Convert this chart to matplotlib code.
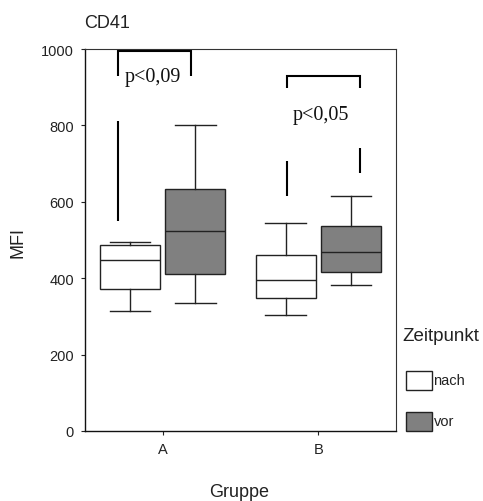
import matplotlib
matplotlib.use("Agg")
import matplotlib.pyplot as plt
from matplotlib.patches import Rectangle

plt.rcParams['font.family'] = ['Liberation Sans', 'DejaVu Sans']

# ---- data ----
groups = ["A", "B"]
series = ["nach", "vor"]
series_colors = ["#ffffff", "#808080"]
# per group: [nach, vor]
whislo = [[314, 336], [303, 382]]
q1 = [[372, 411], [347, 415]]
med = [[447, 523], [395, 469]]
q3 = [[486, 633], [461, 536]]
whishi = [[496, 802], [545, 616]]

# annotation marks (x offset from group centre, value)
bracket_A_x = [-0.286, 0.183]
bracket_A_y = [996, 930]
bracket_B_x = [-0.20, 0.266]
bracket_B_y = [930, 899]
p_labels = ["p<0,09", "p<0,05"]
p_label_x = [-0.063, 0.014]
p_label_y = [916, 818]
thick_lines = [  # (group index, x offset, y low, y high)
    (0, -0.286, 551, 812),
    (1, -0.20, 614, 707),
    (1, 0.266, 676, 742),
]

W, H = 483, 502
fig = plt.figure(figsize=(W / 100, H / 100), dpi=100)
ax = fig.add_axes([85 / W, (H - 432) / H, (396 - 85) / W, (432 - 50) / H])

offsets = [-0.21, 0.21]
box_w = 0.387
for gi, g in enumerate(groups):
    for si, s in enumerate(series):
        st = dict(med=med[gi][si], q1=q1[gi][si], q3=q3[gi][si],
                  whislo=whislo[gi][si], whishi=whishi[gi][si], fliers=[])
        ax.bxp([st], positions=[gi + offsets[si]], widths=box_w,
               capwidths=box_w * 0.67, patch_artist=True, manage_ticks=False,
               boxprops=dict(facecolor=series_colors[si], edgecolor="#222222", linewidth=1.0),
               medianprops=dict(color="#222222", linewidth=1.0),
               whiskerprops=dict(color="#222222", linewidth=1.0),
               capprops=dict(color="#222222", linewidth=1.0))

# brackets
for gi, (bx, by) in enumerate([(bracket_A_x, bracket_A_y), (bracket_B_x, bracket_B_y)]):
    ax.plot([gi + bx[0], gi + bx[0], gi + bx[1], gi + bx[1]],
            [by[1], by[0], by[0], by[1]], color="black", lw=1.5,
            solid_joinstyle="miter", solid_capstyle="butt")
    ax.text(gi + p_label_x[gi], p_label_y[gi], p_labels[gi], ha="center",
            va="baseline", fontsize=14.5, color="#111111",
            family=["Liberation Serif", "DejaVu Serif"])
for gi, xo, y0, y1 in thick_lines:
    ax.plot([gi + xo, gi + xo], [y0, y1], color="black", lw=1.5, solid_capstyle="butt")

ax.set_xlim(-0.5, 1.5)
ax.set_ylim(0, 1000)
ax.set_xticks(range(len(groups)))
ax.set_xticklabels(groups)
ax.set_yticks([0, 200, 400, 600, 800, 1000])
ax.tick_params(axis="both", direction="out", length=3, width=0.8, colors="#222222",
               labelsize=10.5, labelcolor="#222222")
ax.tick_params(axis="y", pad=5)
ax.tick_params(axis="x", pad=5)
for side in ["left", "bottom"]:
    ax.spines[side].set_linewidth(1.0)
    ax.spines[side].set_color("#111111")
for side in ["top", "right"]:
    ax.spines[side].set_linewidth(0.8)
    ax.spines[side].set_color("#333333")

fig.text(84 / W, (H - 28.3) / H, "CD41", fontsize=13, va="baseline", ha="left", color="#222222")
fig.text(18.3 / W, (H - 242.7) / H, "MFI", fontsize=13, rotation=90, ha="center", va="center", color="#222222")
fig.text(239 / W, (H - 497.5) / H, "Gruppe", fontsize=13, ha="center", va="baseline", color="#222222")

# legend
fig.text(402 / W, (H - 340.7) / H, "Zeitpunkt", fontsize=13.5, ha="left", va="baseline", color="#222222")
leg_tops = [371.7, 412.7]
for si, s in enumerate(series):
    top = leg_tops[si]
    fig.add_artist(Rectangle((406 / W, (H - top - 19) / H), 26 / W, 19 / H,
                             transform=fig.transFigure, facecolor=series_colors[si],
                             edgecolor="#222222", linewidth=1.0))
    fig.text(433.5 / W, (H - top - 9.5) / H, s, fontsize=10.5, ha="left", va="center", color="#222222")

fig.savefig("out.png", dpi=100)
